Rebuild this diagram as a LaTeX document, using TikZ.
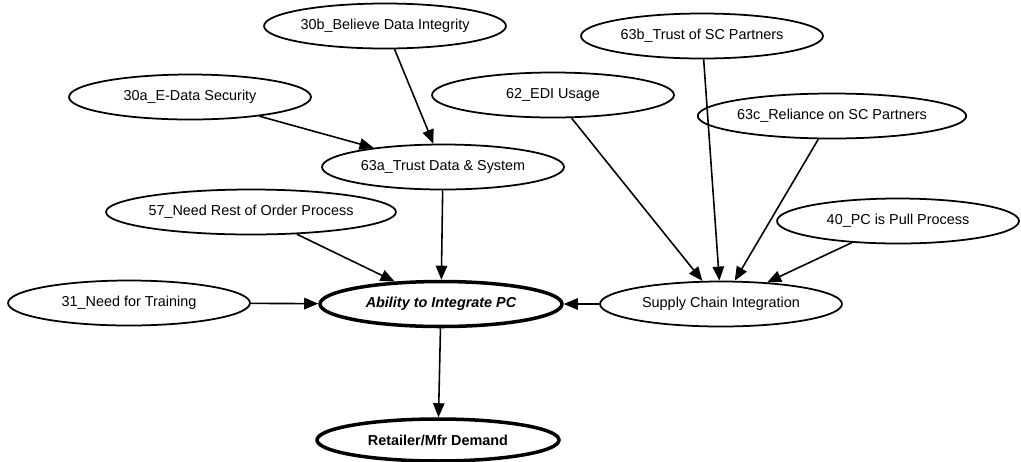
\documentclass[tikz,border=0pt]{standalone}
\usepackage{fontspec}
\setmainfont{Liberation Sans}
\usetikzlibrary{shapes.geometric,arrows.meta}

\begin{document}
\begin{tikzpicture}[x=0.02cm,y=-0.02cm,
  var/.style={ellipse,draw,line width=1pt,minimum width=4.84cm,minimum height=0.9cm,inner sep=0pt,font=\fontsize{8.2}{10}\selectfont},
  core/.style={var,line width=2pt},
  link/.style={line width=0.9pt,-{Triangle[length=8pt,width=6.5pt]}}]
\useasboundingbox (0,0) rectangle (1021,461);
% upper causes
\node[var] (b30) at (385,26) {30b\_Believe Data Integrity};
\node[var] (a30) at (190,97) {30a\_E-Data Security};
\node[var] (e62) at (553,95) {62\_EDI Usage};
\node[var] (b63) at (702,36) {63b\_Trust of SC Partners};
\node[var] (c63) at (832,116) {63c\_Reliance on SC Partners};
\node[var] (a63) at (443,167) {63a\_Trust Data \& System};
\node[var] (n57) at (251,212) {57\_Need Rest of Order Process};
\node[var] (n40) at (898,221) {40\_PC is Pull Process};
% middle row
\node[var] (n31) at (129,303) {31\_Need for Training};
\node[core,font=\fontsize{8.2}{10}\selectfont\bfseries\itshape] (abil) at (441,304) {Ability to Integrate PC};
\node[var] (sci) at (721,304) {Supply Chain Integration};
% outcome
\node[core,minimum height=0.84cm,font=\fontsize{8.2}{10}\selectfont\bfseries] (ret) at (438,440) {Retailer/Mfr Demand};
% arrows
\draw[link] (b30) -- (a63);
\draw[link] (a30) -- (a63);
\draw[link] (a63) -- (abil);
\draw[link] (n57) -- (abil);
\draw[link] (n31) -- (abil);
\draw[link] (sci) -- (abil);
\draw[link] (e62) -- (sci);
\draw[link] (b63) -- (sci);
\draw[link] (c63) -- (sci);
\draw[link] (n40) -- (sci);
\draw[link] (abil) -- (ret);
\end{tikzpicture}
\end{document}
